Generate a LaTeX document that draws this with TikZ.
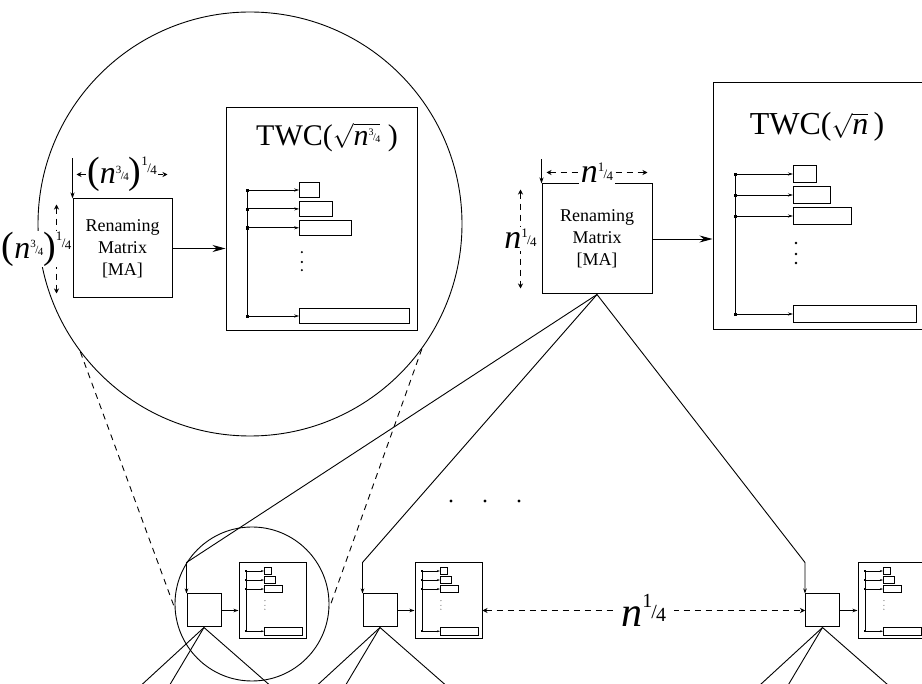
\documentclass[tikz,border=0pt]{standalone}
\usepackage{fontspec}
\setmainfont{Liberation Serif}
\usetikzlibrary{arrows.meta,positioning}

\newcommand{\nvar}{\textit{n}}
\newcommand{\slfr}[3]{{\fontsize{#1}{#1}\selectfont\raisebox{0.7em}{#2}\kern-0.05em\raisebox{0.15em}{/}\kern-0.05em#3}}
\newcommand{\nlblR}{{\fontsize{34}{34}\selectfont\nvar\raisebox{2pt}{\slfr{13}{1}{4}}}}
\newcommand{\nlblB}{{\fontsize{42}{42}\selectfont\nvar\raisebox{5pt}{\slfr{20}{1}{4}}}}
\newcommand{\nlblL}{{\fontsize{32}{32}\selectfont{\fontsize{38}{38}\selectfont(}\nvar\raisebox{3pt}{\slfr{11}{3}{4}}{\fontsize{38}{38}\selectfont)}\raisebox{9pt}{\slfr{13}{1}{4}}}}

\begin{document}
\begin{tikzpicture}[x=1pt,y=-1pt,line width=0.9pt,>={Stealth[length=6pt,width=4pt]},
  twcbox/.style={draw,line width=1pt,inner sep=0pt},
  mabox/.style={draw,line width=1pt,inner sep=0pt,align=center,font=\fontsize{18}{22}\selectfont},
  feed/.style={->,>={Stealth[length=13pt,width=7pt]}},
  dimline/.style={<->,dash pattern=on 6pt off 5pt,>={Stealth[length=5pt,width=5pt]}},
  dimlbl/.style={fill=white,inner sep=2pt},
  lens/.style={draw,circle,inner sep=0pt},
  lst/.style={->,>={Stealth[length=5pt,width=3pt]}},
  twclist/.pic={
    \draw (0,0) -- (0,140);
    \foreach \y/\w in {0/23,21/37,42/58,140/123}{
      \draw[lst] (0,\y) -- (58,\y);
      \draw (58,\y-8.5) rectangle ++(\w,17);
      \draw[line width=0.5pt] (-1.2,\y-1.2) rectangle ++(2.4,2.4);
    }
    \foreach \y in {69,80,89} \fill (61,\y) circle (1.3);
  }]
  \useasboundingbox (0,0) rectangle (922,684);
  \clip (0,0) rectangle (922,684);

  % zoom circles
  \node[lens,minimum size=424pt] (lensB) at (250,224) {};
  \node[lens,minimum size=154pt] (lensS) at (252,604) {};
  \draw[dash pattern=on 6pt off 5pt] (lensB.217) -- (lensS.183);
  \draw[dash pattern=on 6pt off 5pt] (lensB.324) -- (lensS.357);

  % top level
  \node[mabox,minimum size=110pt] (ma) at (597,239) {Renaming\\Matrix\\{}[MA]};
  \node[twcbox,minimum width=212pt,minimum height=247pt] (twcR) at (819,206.5) {};
  \node (ttlR) at (817,127) {\fontsize{32}{32}\selectfont TWC($\sqrt{\mbox{\nvar}}$\,)};
  \pic at (735,174) {twclist};
  \draw[feed] (ma.east) -- (ma.east -| twcR.west);
  \draw[->] ([yshift=24pt]ma.north west) -- (ma.north west);
  \draw[dimline] ([xshift=5pt,yshift=11pt]ma.north west) -- ([xshift=-5pt,yshift=11pt]ma.north east)
    node[midway,dimlbl] (hR) {\nlblR};
  \draw[dimline] ([xshift=-21pt,yshift=-6pt]ma.north west) -- ([xshift=-21pt,yshift=6pt]ma.south west)
    node[midway,dimlbl] (vR) {\nlblR};

  % zoomed view
  \node[mabox,minimum size=99pt] (mz) at (122.5,248.5) {Renaming\\Matrix\\{}[MA]};
  \node[twcbox,minimum width=191pt,minimum height=223pt] (twcL) at (321.5,219.5) {};
  \node (ttlL) at (327,137) {\fontsize{30}{30}\selectfont TWC($\sqrt{\mbox{\nvar\raisebox{3pt}{\slfr{10}{3}{4}}}}$\ )};
  \pic[scale=0.9] at (247,190) {twclist};
  \draw[feed] (mz.east) -- (mz.east -| twcL.west);
  \draw[->] ([yshift=40pt]mz.north west) -- (mz.north west);
  \draw[dimline] ([xshift=4pt,yshift=24pt]mz.north west) -- ([xshift=-5pt,yshift=24pt]mz.north east)
    node[midway,dimlbl,inner sep=1pt] (hL) {\nlblL};
  \draw[dimline] ([xshift=-16pt,yshift=-6pt]mz.north west) -- ([xshift=-16pt,yshift=5pt]mz.south west)
    node[midway,dimlbl,inner sep=1pt,xshift=-20pt] (vL) {\nlblL};

  % bottom level
  \foreach \i/\x in {1/204,2/380,3/822.5}
    \node[mabox,minimum width=34pt,minimum height=33pt] (m\i) at (\x,610.5) {};
  \foreach \i/\x in {1/272.5,2/448.5,3/891.5}
    \node[twcbox,minimum width=67pt,minimum height=75pt] (t\i) at (\x,600.5) {};
  \foreach \x in {246,422,865}
    \pic[xscale=0.31,yscale=0.43,line width=0.7pt,lst/.style={->,>={Stealth[length=3pt,width=2pt]}}] at (\x,571) {twclist};
  \foreach \i in {1,2,3}{
    \draw[->,>={Stealth[length=5pt,width=3.5pt]}] (m\i.east) -- (m\i.east -| t\i.west);
    \draw[->,>={Stealth[length=5pt,width=3.5pt]}] (ma.south) -- ([yshift=31pt]m\i.north west) -- (m\i.north west);
    \foreach \d in {-62,-34,65} \draw (m\i.south) -- ++(\d,57);
  }
  \draw[dimline] (t2.east |- m3.west) -- (m3.west) node[midway,dimlbl,inner sep=8pt] (hB) {\nlblB};
  \foreach \x in {451,485,519} \fill (\x,501) circle (1.6);
\end{tikzpicture}
\end{document}
